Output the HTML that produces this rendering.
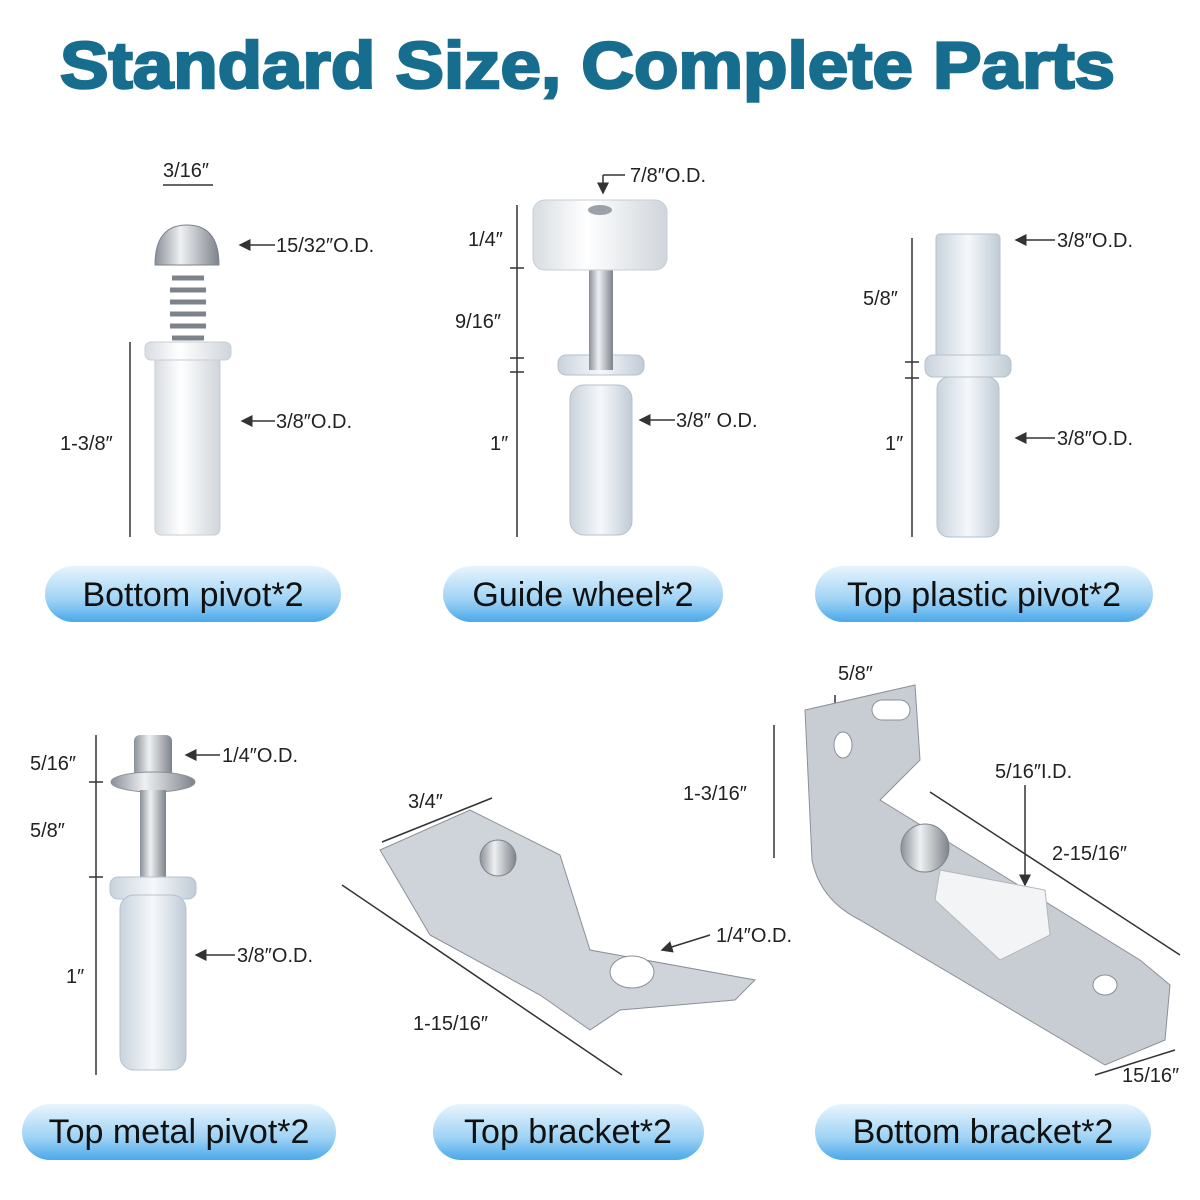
<!DOCTYPE html>
<html><head><meta charset="utf-8"><style>
html,body{margin:0;padding:0;background:#fff;}
svg{display:block}
.t{font-family:"Liberation Sans",sans-serif;font-size:20px;fill:#222}
.p{font-family:"Liberation Sans",sans-serif;font-size:34px;fill:#111}
</style></head><body>
<svg width="1200" height="1200" viewBox="0 0 1200 1200">
<defs>
<linearGradient id="pill" x1="0" y1="0" x2="0" y2="1">
<stop offset="0" stop-color="#e8f5fd"/><stop offset="0.6" stop-color="#9fd3f5"/><stop offset="1" stop-color="#4aa8ea"/></linearGradient>
<linearGradient id="met" x1="0" y1="0" x2="1" y2="0">
<stop offset="0" stop-color="#8a9098"/><stop offset="0.4" stop-color="#eef0f2"/><stop offset="1" stop-color="#7d838b"/></linearGradient>
<linearGradient id="wh" x1="0" y1="0" x2="1" y2="0">
<stop offset="0" stop-color="#d8dde2"/><stop offset="0.4" stop-color="#ffffff"/><stop offset="1" stop-color="#cfd5db"/></linearGradient>
<linearGradient id="cl" x1="0" y1="0" x2="1" y2="0">
<stop offset="0" stop-color="#c9d3dc"/><stop offset="0.5" stop-color="#f5f8fb"/><stop offset="1" stop-color="#c0cbd5"/></linearGradient>
<marker id="ar" markerWidth="8" markerHeight="8" refX="7" refY="4" orient="auto"><path d="M0 0 L8 4 L0 8 Z" fill="#333"/></marker>
</defs>
<text x="60" y="88" textLength="1055" lengthAdjust="spacingAndGlyphs" font-family="Liberation Sans,sans-serif" font-weight="bold" font-size="66" fill="#176d8e" stroke="#176d8e" stroke-width="2.5">Standard Size, Complete Parts</text>

<g>
<rect x="45" y="566" width="296" height="56" rx="28" fill="url(#pill)"/><text class="p" x="193" y="606" text-anchor="middle">Bottom pivot*2</text>
<rect x="443" y="566" width="280" height="56" rx="28" fill="url(#pill)"/><text class="p" x="583" y="606" text-anchor="middle">Guide wheel*2</text>
<rect x="815" y="566" width="338" height="56" rx="28" fill="url(#pill)"/><text class="p" x="984" y="606" text-anchor="middle">Top plastic pivot*2</text>
<rect x="22" y="1104" width="314" height="56" rx="28" fill="url(#pill)"/><text class="p" x="179" y="1143" text-anchor="middle">Top metal pivot*2</text>
<rect x="433" y="1104" width="271" height="56" rx="28" fill="url(#pill)"/><text class="p" x="568" y="1143" text-anchor="middle">Top bracket*2</text>
<rect x="815" y="1104" width="336" height="56" rx="28" fill="url(#pill)"/><text class="p" x="983" y="1143" text-anchor="middle">Bottom bracket*2</text>
</g>

<g stroke="#333" stroke-width="1.5" fill="none">
<line x1="163" y1="185" x2="213" y2="185"/>
<line x1="130" y1="342" x2="130" y2="537"/>
<line x1="275" y1="245" x2="240" y2="245" marker-end="url(#ar)"/>
<line x1="275" y1="421" x2="242" y2="421" marker-end="url(#ar)"/>
<line x1="517" y1="205" x2="517" y2="537"/>
<line x1="510" y1="268" x2="524" y2="268"/><line x1="510" y1="358" x2="524" y2="358"/><line x1="510" y1="372" x2="524" y2="372"/>
<line x1="625" y1="175" x2="603" y2="175"/><line x1="603" y1="175" x2="603" y2="193" marker-end="url(#ar)"/>
<line x1="675" y1="420" x2="640" y2="420" marker-end="url(#ar)"/>
<line x1="912" y1="238" x2="912" y2="537"/>
<line x1="905" y1="362" x2="919" y2="362"/><line x1="905" y1="378" x2="919" y2="378"/>
<line x1="1055" y1="240" x2="1016" y2="240" marker-end="url(#ar)"/>
<line x1="1055" y1="438" x2="1016" y2="438" marker-end="url(#ar)"/>
<line x1="96" y1="735" x2="96" y2="1075"/>
<line x1="89" y1="782" x2="103" y2="782"/><line x1="89" y1="877" x2="103" y2="877"/>
<line x1="220" y1="755" x2="186" y2="755" marker-end="url(#ar)"/>
<line x1="235" y1="955" x2="196" y2="955" marker-end="url(#ar)"/>
<line x1="382" y1="842" x2="492" y2="798"/>
<line x1="342" y1="885" x2="622" y2="1075"/>
<line x1="710" y1="935" x2="662" y2="950" marker-end="url(#ar)"/>
<line x1="774" y1="725" x2="774" y2="858"/>
<line x1="835" y1="695" x2="835" y2="728"/><line x1="883" y1="695" x2="883" y2="728"/>
<line x1="930" y1="792" x2="1180" y2="955"/>
<line x1="1025" y1="785" x2="1025" y2="885" marker-end="url(#ar)"/>
<line x1="1095" y1="1075" x2="1175" y2="1050"/>
</g>

<g class="t">
<text x="163" y="177">3/16″</text>
<text x="276" y="252">15/32″O.D.</text>
<text x="60" y="450">1-3/8″</text>
<text x="276" y="428">3/8″O.D.</text>
<text x="630" y="182">7/8″O.D.</text>
<text x="468" y="246">1/4″</text>
<text x="455" y="328">9/16″</text>
<text x="490" y="450">1″</text>
<text x="676" y="427">3/8″ O.D.</text>
<text x="1057" y="247">3/8″O.D.</text>
<text x="863" y="305">5/8″</text>
<text x="885" y="450">1″</text>
<text x="1057" y="445">3/8″O.D.</text>
<text x="30" y="770">5/16″</text>
<text x="30" y="837">5/8″</text>
<text x="66" y="983">1″</text>
<text x="222" y="762">1/4″O.D.</text>
<text x="237" y="962">3/8″O.D.</text>
<text x="408" y="808">3/4″</text>
<text x="413" y="1030">1-15/16″</text>
<text x="716" y="942">1/4″O.D.</text>
<text x="838" y="680">5/8″</text>
<text x="683" y="800">1-3/16″</text>
<text x="995" y="778">5/16″I.D.</text>
<text x="1052" y="860">2-15/16″</text>
<text x="1122" y="1082">15/16″</text>
</g>

<rect x="155" y="355" width="65" height="180" rx="6" fill="url(#wh)" stroke="#c9ced4"/>
<rect x="145" y="342" width="86" height="18" rx="6" fill="url(#wh)" stroke="#c9ced4"/>
<g stroke="#7d838b" stroke-width="5" fill="none"><path d="M170 290 h36 M170 302 h36 M170 314 h36 M170 326 h36 M172 338 h32 M172 278 h32"/></g>
<path d="M155 265 Q155 225 187 225 Q219 225 219 265 Z" fill="url(#met)" stroke="#7d838b"/>
<rect x="570" y="385" width="62" height="150" rx="14" fill="url(#cl)" stroke="#b5c2cf"/>
<rect x="558" y="355" width="86" height="20" rx="8" fill="url(#cl)" stroke="#b5c2cf"/>
<rect x="589" y="270" width="24" height="100" fill="url(#met)"/>
<rect x="533" y="200" width="134" height="70" rx="12" fill="url(#wh)" stroke="#c9ced4"/>
<ellipse cx="600" cy="210" rx="12" ry="5" fill="#9aa1a8"/>
<rect x="936" y="234" width="64" height="130" rx="4" fill="url(#cl)" stroke="#b5c2cf"/>
<rect x="925" y="355" width="86" height="22" rx="8" fill="url(#cl)" stroke="#b5c2cf"/>
<rect x="937" y="377" width="62" height="160" rx="12" fill="url(#cl)" stroke="#b5c2cf"/>
<rect x="134" y="735" width="38" height="45" rx="6" fill="url(#met)"/>
<ellipse cx="153" cy="782" rx="42" ry="10" fill="url(#met)" stroke="#8a9098"/>
<rect x="140" y="790" width="26" height="100" fill="url(#met)"/>
<rect x="110" y="877" width="86" height="22" rx="8" fill="url(#cl)" stroke="#b5c2cf"/>
<rect x="120" y="895" width="66" height="175" rx="14" fill="url(#cl)" stroke="#b5c2cf"/>
<path d="M380 850 L470 810 L560 855 L590 950 L755 980 L735 1000 L620 1010 L590 1030 L540 995 L430 935 Z" fill="#cfd4da" stroke="#8a9098"/>
<ellipse cx="632" cy="972" rx="22" ry="16" fill="#fff" stroke="#8a9098"/>
<circle cx="498" cy="858" r="18" fill="url(#met)" stroke="#7d838b"/>
<path d="M805 710 L915 685 L920 760 L880 800 L1140 960 L1170 985 L1165 1040 L1105 1065 L860 920 Q820 900 812 860 Z" fill="#c8cdd3" stroke="#8a9098"/>
<ellipse cx="843" cy="745" rx="9" ry="13" fill="#fff" stroke="#8a9098"/>
<rect x="872" y="700" width="38" height="20" rx="10" fill="#fff" stroke="#8a9098"/>
<circle cx="925" cy="848" r="24" fill="url(#met)" stroke="#7d838b"/>
<path d="M940 870 L1045 890 L1050 935 L1000 960 L935 900 Z" fill="#f2f4f6" stroke="#b0b6bc"/>
<ellipse cx="1105" cy="985" rx="12" ry="10" fill="#fff" stroke="#8a9098"/>
</svg>
</body></html>
